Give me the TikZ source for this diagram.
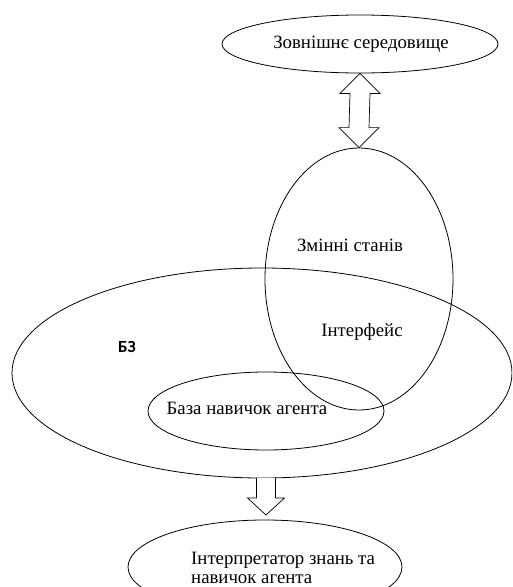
\documentclass[tikz,border=0pt]{standalone}
\usepackage{fontspec}
\setmainfont{Liberation Serif}
\newfontfamily\labelsans{Carlito}
\usetikzlibrary{shapes.geometric,calc}
\begin{document}
\begin{tikzpicture}[x=1pt,y=-1pt,
  region/.style={draw=black,line width=0.8pt,shape=ellipse,inner sep=0pt},
  caption/.style={inner sep=0pt,font=\fontsize{18.8}{19}\selectfont},
  blockarrow/.style={draw=black,line width=0.7pt,fill=white,line join=miter}]
\clip (0,0) rectangle (512,587);

% regions
\node[region,minimum width=276,minimum height=58] (env) at (360,44) {};
\node[region,minimum width=500,minimum height=210] (kb) at (262,373) {};
\node[region,minimum width=188,minimum height=262] (states) at (359,279) {};
\node[region,minimum width=236,minimum height=78] (skills) at (266,411) {};
\node[region,minimum width=274,minimum height=94] (interp) at (265,567) {};

% captions
\node[caption] (envtext) at (361,44) {Зовнішнє середовище};
\node[caption] (statestext) at (350,245) {Змінні станів};
\node[caption] (iftext) at (362,332) {Інтерфейс};
\node[inner sep=0pt,font=\labelsans\fontsize{17}{18}\selectfont\bfseries] (kbtext) at (127,347) {БЗ};
\node[caption] (skilltext) at (247,408) {База навичок агента};
\node[caption,align=left,anchor=west] (interptext) at (191,567.5) {Інтерпретатор знань та\\навичок агента};

% two-way exchange between environment and state variables
\draw[blockarrow] (env.south)
  -- ($(env.south)+(20,20)$) -- ($(env.south)+(10,20)$)
  -- ($(states.north)+(10,-20)$) -- ($(states.north)+(20,-20)$)
  -- (states.north)
  -- ($(states.north)+(-20,-20)$) -- ($(states.north)+(-10,-20)$)
  -- ($(env.south)+(-10,20)$) -- ($(env.south)+(-20,20)$) -- cycle;

% knowledge base feeds the interpreter
\coordinate (kbout) at (266,478);
\coordinate (interpin) at (266,515);
\draw[blockarrow] ($(kbout)+(-9.5,0)$) -- ($(kbout)+(-9.5,20)$)
  -- ($(kbout)+(-18.5,20)$) -- (interpin) -- ($(kbout)+(18.5,20)$)
  -- ($(kbout)+(9.5,20)$) -- ($(kbout)+(9.5,0)$);
\end{tikzpicture}
\end{document}
